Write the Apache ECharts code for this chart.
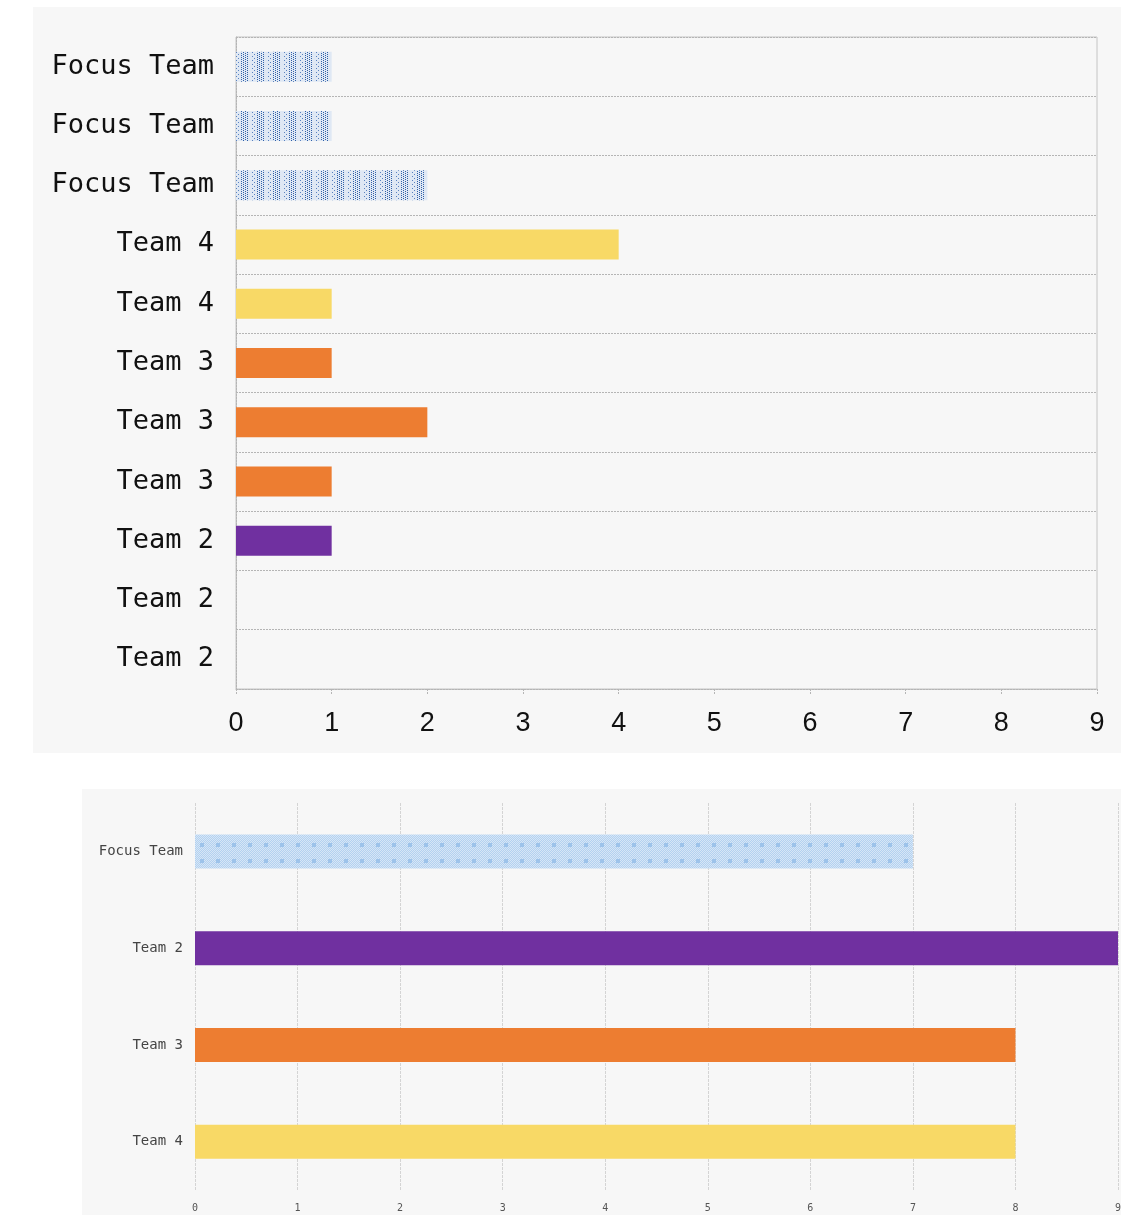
<!DOCTYPE html>
<html>
<head>
<meta charset="utf-8">
<script src="https://cdn.jsdelivr.net/npm/echarts@6/dist/echarts.min.js"></script>
<style>
  html, body { margin: 0; padding: 0; background: #fff; }
  #top { position: absolute; left: 33px; top: 7px; width: 1088px; height: 746px; background: #f7f7f7; }
  #bottom { position: absolute; left: 82px; top: 789px; width: 1039px; height: 426px; background: #f7f7f7; }
</style>
</head>
<body>
<div id="top"></div>
<div id="bottom"></div>
<script>
// top chart: one bar per row
const topCategories = ['Focus Team', 'Focus Team', 'Focus Team', 'Team 4', 'Team 4', 'Team 3', 'Team 3', 'Team 3', 'Team 2', 'Team 2', 'Team 2'];
const topValues = [1, 1, 2, 4, 1, 1, 2, 1, 1, 0, 0];

// bottom chart: totals per team
const bottomCategories = ['Focus Team', 'Team 2', 'Team 3', 'Team 4'];
const bottomValues = [7, 9, 8, 8];

// dotted blue pattern for the focus team (top)
function darkDots() {
  const c = document.createElement('canvas');
  c.width = 16; c.height = 4;
  const g = c.getContext('2d');
  g.fillStyle = '#dfe8f4';
  g.fillRect(0, 0, 16, 4);
  g.fillStyle = '#2f5fa8';
  for (let x = 0; x < 8; x += 2) {
    for (let y = (x / 2) % 2; y < 4; y += 2) g.fillRect(x, y, 1, 1);
  }
  g.fillStyle = '#5a82c0';
  g.fillRect(11, 1, 1, 1);
  g.fillRect(13, 3, 1, 1);
  return c;
}

// light blue checker pattern for the focus team (bottom)
function lightDots() {
  const c = document.createElement('canvas');
  c.width = 16; c.height = 16;
  const g = c.getContext('2d');
  g.fillStyle = '#d6e6f6';
  g.fillRect(0, 0, 16, 16);
  g.fillStyle = '#b3d1f0';
  for (let x = 0; x < 16; x++) {
    for (let y = 0; y < 16; y++) if ((x + y) % 2 === 0) g.fillRect(x, y, 1, 1);
  }
  g.fillStyle = '#9dc3ea';
  g.fillRect(6, 6, 4, 4);
  return c;
}

const teamColors = {
  'Team 2': '#7030a0',
  'Team 3': '#ed7d31',
  'Team 4': '#f8d966'
};

function topColor(name) {
  if (name === 'Focus Team') return { image: darkDots(), repeat: 'repeat' };
  return teamColors[name];
}
function bottomColor(name) {
  if (name === 'Focus Team') return { image: lightDots(), repeat: 'repeat' };
  return teamColors[name];
}

const lineStyle = { color: '#b5b5b5', width: 1, type: [2, 1] };

const topChart = echarts.init(document.getElementById('top'));
topChart.setOption({
  animation: false,
  grid: { left: 203, right: 24, top: 30, bottom: 64, outerBoundsMode: 'none', show: true, borderColor: '#c4c4c4', borderWidth: 1 },
  xAxis: {
    type: 'value', min: 0, max: 9, interval: 1,
    axisLine: { show: true, lineStyle: lineStyle },
    axisTick: { show: true, length: 6, lineStyle: lineStyle },
    splitLine: { show: false },
    axisLabel: { color: '#111', fontSize: 27, fontFamily: 'Liberation Sans', margin: 21 }
  },
  yAxis: {
    type: 'category', inverse: true, data: topCategories,
    axisLine: { show: true, lineStyle: lineStyle },
    axisTick: { show: false },
    splitLine: { show: true, lineStyle: lineStyle },
    axisLabel: { color: '#111', fontSize: 27, fontFamily: 'DejaVu Sans Mono', margin: 22 }
  },
  series: [{
    type: 'bar', barWidth: 30,
    data: topValues.map((v, i) => ({ value: v, itemStyle: { color: topColor(topCategories[i]) } }))
  }]
});

const bottomChart = echarts.init(document.getElementById('bottom'));
bottomChart.setOption({
  animation: false,
  grid: { left: 113, right: 3, top: 14, bottom: 25, outerBoundsMode: 'none' },
  xAxis: {
    type: 'value', min: 0, max: 9, interval: 1,
    axisLine: { show: false },
    axisTick: { show: false },
    splitLine: { show: true, lineStyle: { color: '#d4d4d4', width: 1, type: [3, 1] } },
    axisLabel: { color: '#555', fontSize: 10, fontFamily: 'DejaVu Sans Mono', margin: 13 }
  },
  yAxis: {
    type: 'category', inverse: true, data: bottomCategories,
    axisLine: { show: false },
    axisTick: { show: false },
    splitLine: { show: false },
    axisLabel: { color: '#444', fontSize: 14, fontFamily: 'DejaVu Sans Mono', margin: 12 }
  },
  series: [{
    type: 'bar', barWidth: 34,
    data: bottomValues.map((v, i) => ({ value: v, itemStyle: { color: bottomColor(bottomCategories[i]) } }))
  }]
});
</script>
</body>
</html>
